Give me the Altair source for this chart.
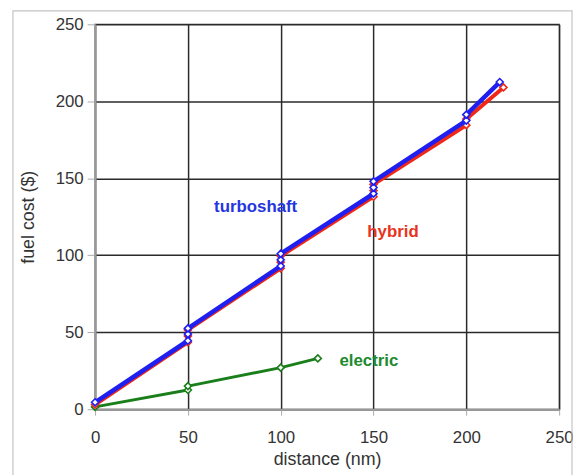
import altair as alt
import pandas as pd

# turboshaft series
turbo_x = [0, 50, 50, 50, 100, 100, 100, 150, 150, 150, 200, 200, 218]
turbo_y = [4.5, 44.5, 48.8, 52.5, 93, 97, 101, 140, 144, 148, 187.5, 191.3, 212.5]
# hybrid series
hyb_x = [0, 50, 50, 50, 100, 100, 100, 150, 150, 150, 200, 200, 220]
hyb_y = [3, 43.5, 47.5, 51.5, 91.5, 95.5, 99.5, 138, 142, 146, 184.5, 188.5, 209]
# electric series
elec_x = [0, 50, 50, 100, 120]
elec_y = [1.5, 12.5, 15, 27, 33]

# label annotations
label_text = ["turboshaft", "hybrid", "electric"]
label_x = [86.5, 160.5, 147.5]
label_y = [131, 115, 31.5]
label_color = ["#2536e0", "#e8341c", "#1e8a30"]

ticks = [0, 50, 100, 150, 200, 250]

FONT = "Liberation Sans"


def df(xs, ys):
    return pd.DataFrame({"x": xs, "y": ys, "i": list(range(len(xs)))})


xs = alt.Scale(domain=[0, 250], nice=False)
ys = alt.Scale(domain=[0, 250], nice=False)

xax = alt.Axis(values=ticks, title="distance (nm)", grid=True, labelPadding=15,
               titlePadding=5, tickSize=6, labelFlush=False)
yax = alt.Axis(values=ticks, title="fuel cost ($)", grid=True, labelPadding=4,
               titlePadding=18, tickSize=8, labelFlush=False)


def series(d, color, width):
    base = alt.Chart(d)
    line = base.mark_line(color=color, strokeWidth=width).encode(
        x=alt.X("x:Q", scale=xs, axis=xax),
        y=alt.Y("y:Q", scale=ys, axis=yax),
        order=alt.Order("i:Q"),
    )
    pts = base.mark_point(shape="diamond", filled=True, fill="white", stroke=color,
                          strokeWidth=1.6, size=50, opacity=1).encode(
        x=alt.X("x:Q", scale=xs, axis=xax),
        y=alt.Y("y:Q", scale=ys, axis=yax),
    )
    return line + pts


green = series(df(elec_x, elec_y), "#1a7f1a", 3)
red = series(df(hyb_x, hyb_y), "#f02818", 4)
blue = series(df(turbo_x, turbo_y), "#1f1ff0", 4.5)

labels = alt.Chart(pd.DataFrame({"t": label_text, "x": label_x, "y": label_y,
                                 "c": label_color})).mark_text(
    font=FONT, fontSize=17, fontWeight="bold", align="center", baseline="middle"
).encode(
    x=alt.X("x:Q", scale=xs, axis=xax),
    y=alt.Y("y:Q", scale=ys, axis=yax),
    text="t:N",
    color=alt.Color("c:N", scale=None),
)

frame = alt.Chart(pd.DataFrame({"a": [0]})).mark_rect(
    fillOpacity=0, stroke="#c4c4c4", strokeWidth=1.2
).encode(
    x=alt.value(-83), x2=alt.value(482), y=alt.value(-13.5), y2=alt.value(500)
)

chart = alt.layer(frame, green, red, blue, labels).properties(
    width=469, height=389,
    autosize=alt.AutoSizeParams(type="none"),
    padding={"left": 88, "top": 14, "right": 14, "bottom": 64},
).configure_view(
    stroke="#999999", strokeWidth=1.5
).configure_axis(
    labelFont=FONT, titleFont=FONT, labelFontSize=17, titleFontSize=18,
    labelColor="#333", titleColor="#333", titleFontWeight="normal",
    gridColor="#2a2a2a", gridWidth=1.5, gridOpacity=1,
    domainColor="#999999", domainWidth=2, tickColor="#aaaaaa", tickWidth=1,
)

chart.save("out.html", embed_options={"renderer": "svg", "actions": False})
